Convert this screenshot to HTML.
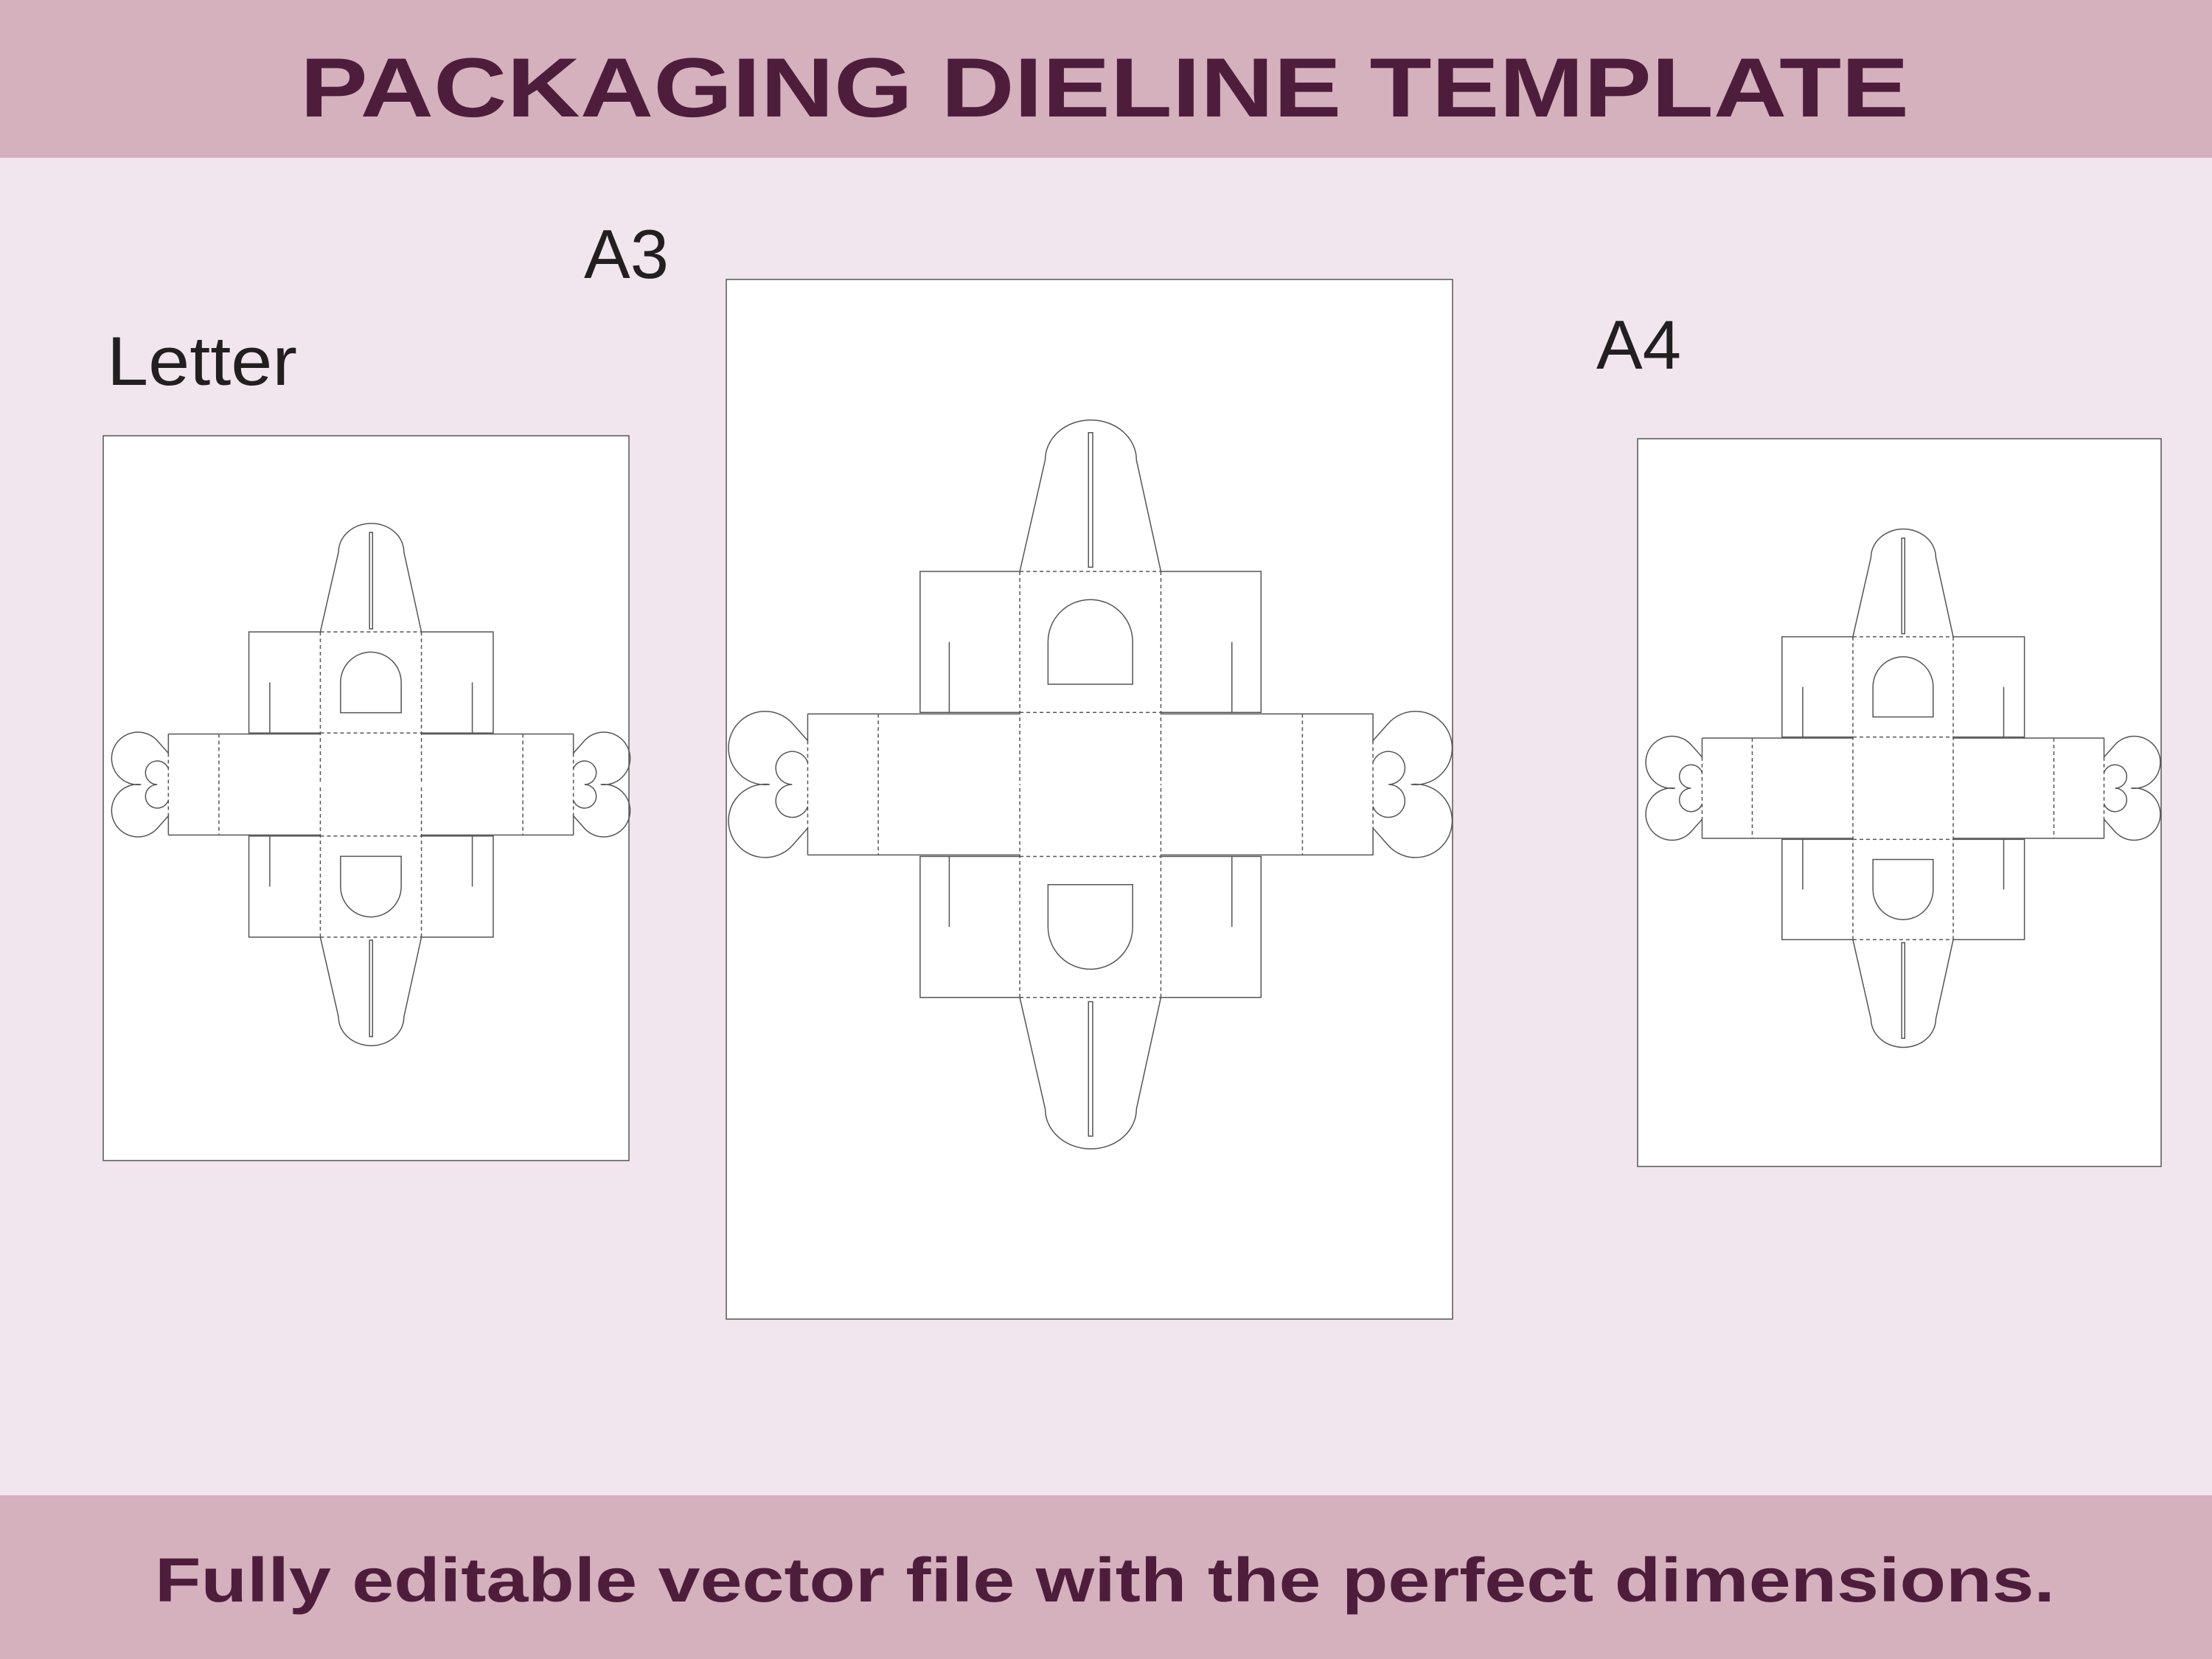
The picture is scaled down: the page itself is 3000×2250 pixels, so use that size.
<!DOCTYPE html>
<html><head><meta charset="utf-8"><style>
html,body{margin:0;padding:0;width:3000px;height:2250px;overflow:hidden;background:#f2e6ee}
</style></head><body>
<svg width="3000" height="2250" viewBox="0 0 3000 2250" xmlns="http://www.w3.org/2000/svg">
<defs>
<g id="die" fill="none" stroke="#555" stroke-width="1.5">
 <g id="half">
  <path vector-effect="non-scaling-stroke" d="M632,337 L686,100 A97,85 0 0 1 880,100 L932,337"/>
  <rect vector-effect="non-scaling-stroke" x="778" y="42" width="9" height="286"/>
  <path vector-effect="non-scaling-stroke" d="M632,337 L420,337 L420,637 L632,637 M932,337 L1145,337 L1145,637 L932,637 M482,487 L482,637 M1083,487 L1083,637"/>
  <path vector-effect="non-scaling-stroke" stroke-dasharray="5,4" d="M632,337 L932,337 M632,337 L632,790 M932,337 L932,790 M632,637 L932,637"/>
  <path vector-effect="non-scaling-stroke" d="M692,577 L692,487 A90,90 0 0 1 872,487 L872,577 Z"/>
 </g>
 <use href="#half" transform="translate(0,1580) scale(1,-1)"/>
 <path vector-effect="non-scaling-stroke" d="M181,640 L632,640 M932,640 L1384,640 M181,940 L632,940 M932,940 L1384,940"/>
 <path vector-effect="non-scaling-stroke" stroke-dasharray="5,4" d="M331,640 L331,940 M1233,640 L1233,940"/>
 <g id="heart">
  <path vector-effect="non-scaling-stroke" d="M181,640 L181,697 L150,662 A78,78 0 1 0 100,790 A78,78 0 1 0 150,918 L181,883 L181,940"/>
  <path vector-effect="non-scaling-stroke" d="M181,743 A35,35 0 1 0 148,790 A35,35 0 1 0 181,837"/>
  <path vector-effect="non-scaling-stroke" stroke-dasharray="5,4" d="M181,697 L181,883"/>
 </g>
 <use href="#heart" transform="translate(1564,0) scale(-1,1)"/>
</g>
</defs>
<rect x="0" y="0" width="3000" height="214" fill="#d5b0bd"/>
<rect x="0" y="2028" width="3000" height="222" fill="#d5b0bd"/>
<text x="407" y="158" textLength="2182" lengthAdjust="spacingAndGlyphs" font-family="Liberation Sans, sans-serif" font-weight="bold" font-size="114" fill="#4e1d3c">PACKAGING DIELINE TEMPLATE</text>
<text x="210" y="2172" textLength="2577" lengthAdjust="spacingAndGlyphs" font-family="Liberation Sans, sans-serif" font-weight="bold" font-size="84" fill="#4e1d3c">Fully editable vector file with the perfect dimensions.</text>
<text x="145" y="522" textLength="258" lengthAdjust="spacingAndGlyphs" font-family="Liberation Sans, sans-serif" font-size="94" fill="#231f20">Letter</text>
<text x="792" y="377" font-family="Liberation Sans, sans-serif" font-size="94" fill="#231f20">A3</text>
<text x="2165" y="500" font-family="Liberation Sans, sans-serif" font-size="94" fill="#231f20">A4</text>
<rect x="140" y="591" width="713" height="983" fill="#fff" stroke="#555" stroke-width="1.5"/>
<rect x="985" y="379" width="985" height="1410" fill="#fff" stroke="#555" stroke-width="1.5"/>
<rect x="2221" y="595" width="710" height="987" fill="#fff" stroke="#555" stroke-width="1.5"/>
<use href="#die" transform="translate(980,560) scale(0.6378)"/>
<use href="#die" transform="translate(503,1064) scale(0.457) translate(-782,-790)"/>
<use href="#die" transform="translate(2581,1069) scale(0.4535) translate(-782,-790)"/>
</svg>
</body></html>
